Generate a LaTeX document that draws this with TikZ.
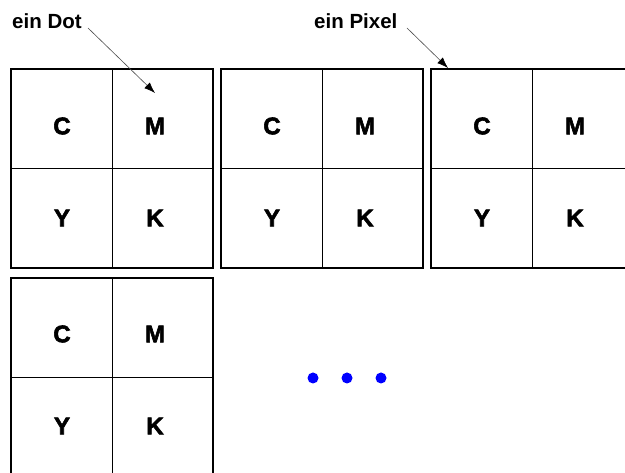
\documentclass[tikz,border=0pt]{standalone}
\usepackage{fontspec}
\setmainfont{Liberation Sans}
\newfontfamily\heavyfont[FakeBold=2.5]{Liberation Sans Bold}
\usetikzlibrary{arrows.meta}

\tikzset{
    frame/.style={line width=2pt},
    ink/.style={font=\fontsize{24}{24}\selectfont\heavyfont},
    caption/.style={font=\fontsize{20.5}{21}\selectfont\bfseries, anchor=base west, inner sep=0pt},
    pointer/.style={draw=black!70, line width=0.6pt, -{Latex[length=11pt,width=8pt,black]}},
    blob/.style={circle, fill=blue, inner sep=0pt, minimum size=11pt}
}

\begin{document}
\begin{tikzpicture}[x=1pt,y=-1pt]
        \useasboundingbox (0,0) rectangle (625,473);
        \clip (0,0) rectangle (625,473);

        % first pixel
        \draw[frame] (11,69) rectangle (213,268);
        \draw (112,69) -- (112,268);
        \draw (11,168) -- (213,168);
        \node[ink] (c1) at (62,126) {C};
        \node[ink] (m1) at (155,126) {M};
        \node[ink] (y1) at (62,218) {Y};
        \node[ink] (k1) at (155,218) {K};

        % second pixel
        \draw[frame] (221,69) rectangle (423,268);
        \draw (322,69) -- (322,268);
        \draw (221,168) -- (423,168);
        \node[ink] (c2) at (272,126) {C};
        \node[ink] (m2) at (365,126) {M};
        \node[ink] (y2) at (272,218) {Y};
        \node[ink] (k2) at (365,218) {K};

        % third pixel
        \draw[frame] (431,69) rectangle (633,268);
        \draw (532,69) -- (532,268);
        \draw (431,168) -- (633,168);
        \node[ink] (c3) at (482,126) {C};
        \node[ink] (m3) at (575,126) {M};
        \node[ink] (y3) at (482,218) {Y};
        \node[ink] (k3) at (575,218) {K};

        % fourth pixel
        \draw[frame] (11,278) rectangle (213,478);
        \draw (112,278) -- (112,478);
        \draw (11,377) -- (213,377);
        \node[ink] (c4) at (62,334) {C};
        \node[ink] (m4) at (155,334) {M};
        \node[ink] (y4) at (62,426) {Y};
        \node[ink] (k4) at (155,426) {K};

        % and so on
        \node[blob] (d1) at (313,378) {};
        \node[blob] (d2) at (347,378) {};
        \node[blob] (d3) at (381,378) {};

        % labels
        \node[caption] (dot) at (12,29) {ein Dot};
        \node[caption] (pixel) at (314,29) {ein Pixel};
        \coordinate (dottip) at (155,93);
        \coordinate (pixeltip) at (448,68);
        \draw[pointer] (88,28) -- (dottip);
        \draw[pointer] (407,28) -- (pixeltip);
    \end{tikzpicture}
\end{document}
